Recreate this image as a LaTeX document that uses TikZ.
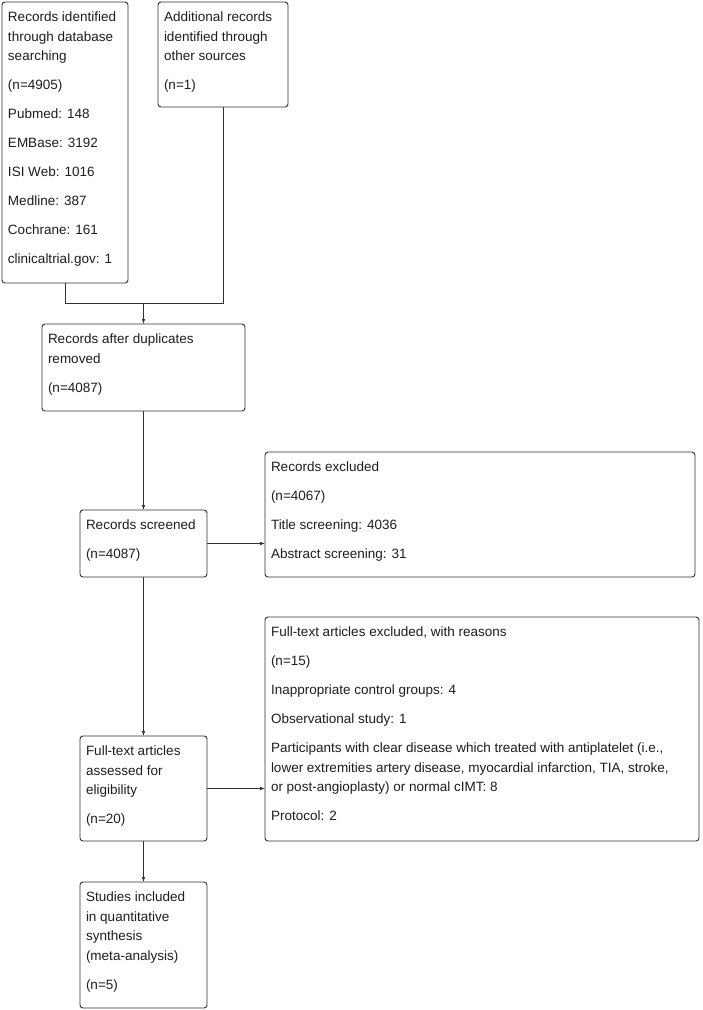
\documentclass[tikz,border=0pt]{standalone}
\usepackage{fontspec}
\setmainfont{Liberation Sans}
\usetikzlibrary{arrows.meta}
\definecolor{linecol}{RGB}{50,50,50}
\definecolor{txtcol}{RGB}{30,30,30}
\newcommand{\boxtext}[3]{\begin{minipage}[c][#2][t]{#1}\raggedright\fontsize{13.5}{19.5}\selectfont\strut #3\end{minipage}}
\def\gp{\\[9.5pt]}
\begin{document}
\begin{tikzpicture}[x=1pt,y=-1pt,
  flowbox/.style={draw=linecol, line width=0.9pt, rounded corners=3pt, inner sep=6pt, outer sep=0pt, text=txtcol, fill=white},
  conn/.style={draw=linecol, line width=0.9pt},
  arr/.style={conn, -{Latex[length=5pt,width=3.6pt]}}]
\fill[white] (0,0) rectangle (702,1010);
\useasboundingbox (0,0) rectangle (702,1010);

\node[flowbox] (A) at (65,142.5) {\boxtext{114pt}{269pt}{Records identified\\ through database\\ searching\gp (n=4905)\gp Pubmed: 148\gp EMBase: 3192\gp ISI Web: 1016\gp Medline: 387\gp Cochrane: 161\gp clinicaltrial.gov: 1}};
\node[flowbox] (B) at (223,54.5) {\boxtext{118pt}{93pt}{Additional records\\ identified through\\ other sources\gp (n=1)}};
\node[flowbox] (C) at (143.5,367.5) {\boxtext{191pt}{75pt}{Records after duplicates\\ removed\gp (n=4087)}};
\node[flowbox] (D) at (143.5,543.5) {\boxtext{115pt}{55pt}{Records screened\gp (n=4087)}};
\node[flowbox] (E) at (480,514.5) {\boxtext{418pt}{113pt}{Records excluded\gp (n=4067)\gp Title screening: 4036\gp Abstract screening: 31}};
\node[flowbox] (F) at (143.5,788.5) {\boxtext{115pt}{93pt}{Full-text articles\\ assessed for\\ eligibility\gp (n=20)}};
\node[flowbox] (G) at (482,729) {\boxtext{422pt}{212pt}{Full-text articles excluded, with reasons\gp (n=15)\gp Inappropriate control groups: 4\gp Observational study: 1\gp Participants with clear disease which treated with antiplatelet (i.e.,\\ lower extremities artery disease, myocardial infarction, TIA, stroke,\\ or post-angioplasty) or normal cIMT: 8\gp Protocol: 2}};
\node[flowbox] (H) at (143.5,945) {\boxtext{115pt}{114pt}{Studies included\\ in quantitative\\ synthesis\\ (meta-analysis)\gp (n=5)}};

\coordinate (J) at (143.5,303.5);
\draw[conn] (A.south) |- (J);
\draw[conn] (B.south) |- (J);
\draw[arr] (J) -- (C.north);
\draw[arr] (C.south) -- (D.north);
\draw[arr] (D.east) -- (D.east -| E.west);
\draw[arr] (D.south) -- (F.north);
\draw[arr] (F.east) -- (F.east -| G.west);
\draw[arr] (F.south) -- (H.north);
\end{tikzpicture}
\end{document}
